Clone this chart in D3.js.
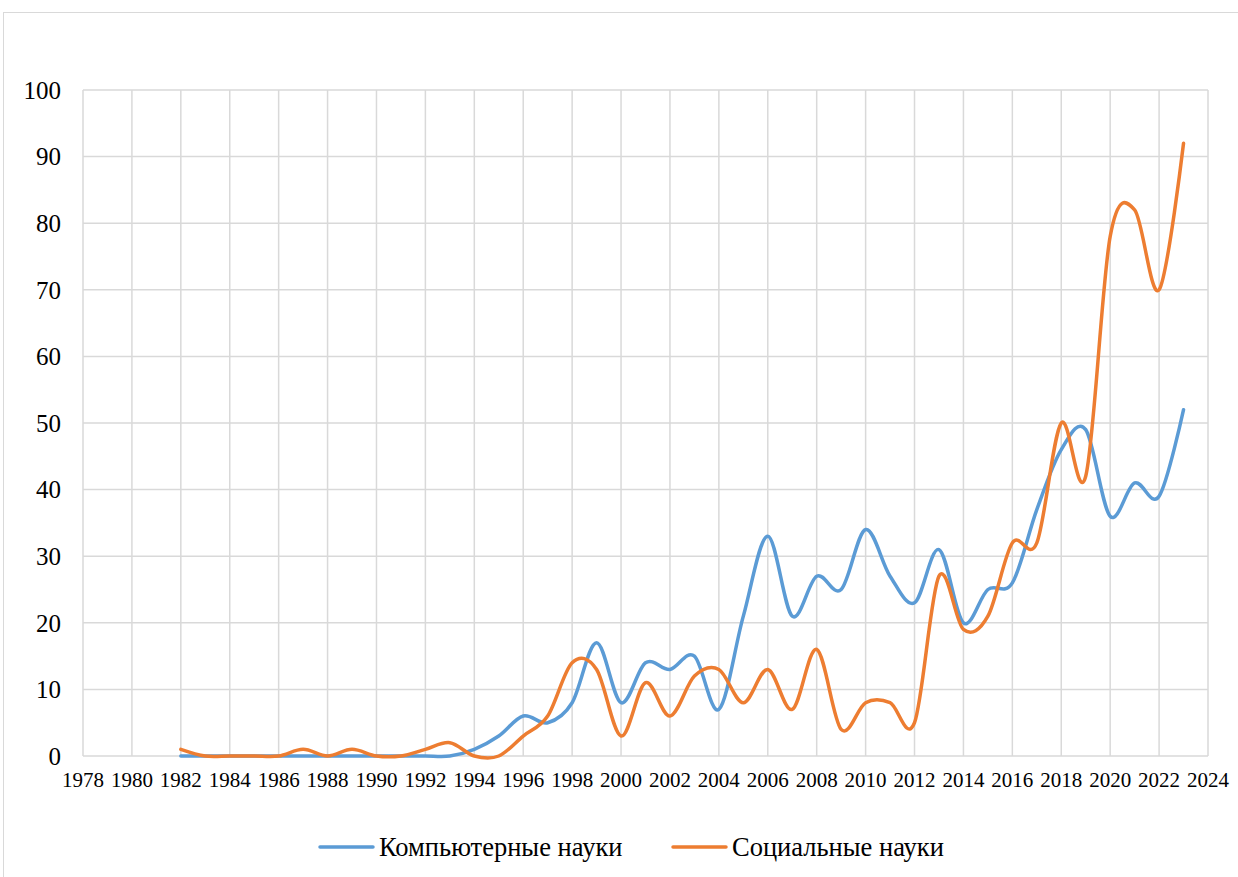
<!DOCTYPE html>
<html>
<head>
<meta charset="utf-8">
<script src="https://cdn.jsdelivr.net/npm/d3@7"></script>
<style>
  body { margin: 0; background: #fff; }
  svg { display: block; font-family: "Liberation Serif", "Times New Roman", serif; }
</style>
</head>
<body>
<script>
var years = d3.range(1982, 2024);
var computerSci = [0, 0, 0, 0, 0, 0, 0, 0, 0, 0, 0, 0, 1, 3, 6, 5, 8, 17, 8, 14, 13, 15, 7, 21,
                   33, 21, 27, 25, 34, 27, 23, 31, 20, 25, 26, 37, 46, 49, 36, 41, 39, 52];
var socialSci = [1, 0, 0, 0, 0, 1, 0, 1, 0, 0, 1, 2, 0, 0, 3, 6, 14, 13, 3, 11, 6, 12, 13, 8,
                 13, 7, 16, 4, 8, 8, 5, 27, 19, 21, 32, 32, 50, 42, 78, 82, 70, 92];
var yTicks = d3.range(0, 101, 10);
var xTicks = d3.range(1978, 2025, 2);
var seriesNames = ["Компьютерные науки", "Социальные науки"];
var colors = ["#5b9bd5", "#ed7d31"];

var w = 1238, h = 877;
var svg = d3.select("body").append("svg")
    .attr("width", w)
    .attr("height", h);

// outer chart frame
svg.append("rect")
    .attr("x", 3.5).attr("y", 12.5)
    .attr("width", w).attr("height", h)
    .attr("fill", "none")
    .attr("stroke", "#d9d9d9");

var x = d3.scaleLinear().domain([1978, 2024]).range([83, 1208]);
var y = d3.scaleLinear().domain([0, 100]).range([756, 90]);

// grid
svg.append("g").selectAll("line")
    .data(yTicks)
    .enter().append("line")
    .attr("x1", x(1978)).attr("x2", x(2024))
    .attr("y1", function(d) { return y(d); })
    .attr("y2", function(d) { return y(d); })
    .attr("stroke", "#d9d9d9")
    .attr("stroke-width", 1.5);

svg.append("g").selectAll("line")
    .data(xTicks)
    .enter().append("line")
    .attr("x1", function(d) { return x(d); })
    .attr("x2", function(d) { return x(d); })
    .attr("y1", y(0)).attr("y2", y(100))
    .attr("stroke", "#d9d9d9")
    .attr("stroke-width", 1.5);

// y labels
svg.append("g").selectAll("text")
    .data(yTicks)
    .enter().append("text")
    .attr("x", 61)
    .attr("y", function(d) { return y(d); })
    .attr("dy", "0.35em")
    .attr("text-anchor", "end")
    .attr("font-size", 25)
    .attr("fill", "#000")
    .text(function(d) { return d; });

// x labels
svg.append("g").selectAll("text")
    .data(xTicks)
    .enter().append("text")
    .attr("x", function(d) { return x(d); })
    .attr("y", 787)
    .attr("text-anchor", "middle")
    .attr("font-size", 21)
    .attr("fill", "#000")
    .text(function(d) { return d; });

var line = d3.line()
    .x(function(d, i) { return x(years[i]); })
    .y(function(d) { return y(d); })
    .curve(d3.curveCardinal.tension(0));

[computerSci, socialSci].forEach(function(s, i) {
    svg.append("path")
        .datum(s)
        .attr("d", line)
        .attr("fill", "none")
        .attr("stroke", colors[i])
        .attr("stroke-width", 3.5)
        .attr("stroke-linecap", "round")
        .attr("stroke-linejoin", "round");
});

// legend
var legendX = [320, 673];
seriesNames.forEach(function(name, i) {
    var g = svg.append("g").attr("transform", "translate(" + legendX[i] + ",847)");
    g.append("line")
        .attr("x1", 0).attr("x2", 53)
        .attr("stroke", colors[i])
        .attr("stroke-width", 3.5)
        .attr("stroke-linecap", "round");
    g.append("text")
        .attr("x", 59)
        .attr("dy", "0.35em")
        .attr("font-size", 26.5)
        .attr("fill", "#000")
        .text(name);
});
</script>
</body>
</html>
